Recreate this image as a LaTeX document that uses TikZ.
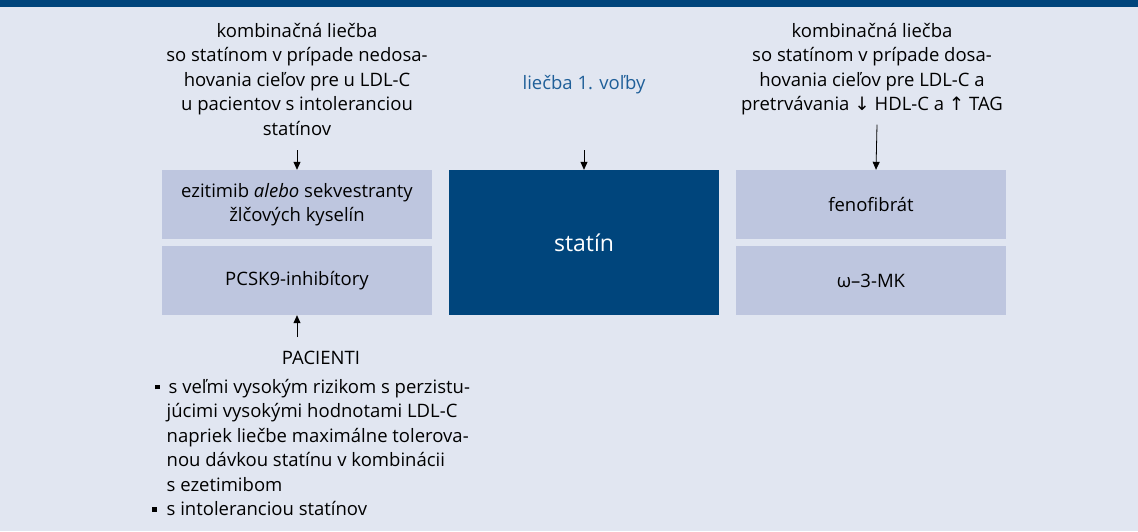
\documentclass[tikz,border=0pt]{standalone}
\usepackage{fontspec}
\setmainfont{Open Sans}
\newfontfamily\symf{DejaVu Sans}
\usetikzlibrary{arrows.meta}
\definecolor{bg}{HTML}{E1E6F1}
\definecolor{dkblue}{HTML}{00457C}
\definecolor{ltbox}{HTML}{BEC6DF}
\definecolor{txtblue}{HTML}{1F5F99}
\newcommand{\sqb}{\raisebox{4pt}{\rule{4.5pt}{4.5pt}}}
\tikzset{
 lbox/.style={fill=ltbox, minimum width=270pt, minimum height=69pt, inner sep=0pt, align=center, font=\fontsize{18.5}{24}\selectfont},
 ltext/.style={align=center, font=\fontsize{18.5}{24.5}\selectfont, inner sep=0pt},
 arr/.style={-{Triangle[width=7pt,length=8pt]}, line width=0.8pt},
}
\begin{document}
\begin{tikzpicture}[x=1pt,y=-1pt]
\useasboundingbox (0,0) rectangle (1138,531);
\fill[bg] (0,0) rectangle (1138,531);
\fill[dkblue] (0,0) rectangle (1138,7);
\node[lbox] (ezt) at (297,204.5) {ezitimib \textit{alebo} sekvestranty\\žlčových kyselín};
\node[lbox] (pcsk) at (297,280.5) {PCSK9-inhibítory};
\node[fill=dkblue, minimum width=270pt, minimum height=145pt, inner sep=0pt, text=white, font=\fontsize{23}{27}\selectfont] (statin) at (584,242.5) {statín};
\node[lbox] (feno) at (871,204.5) {fenofibrát};
\node[lbox] (omega) at (871,280.5) {ω–3-MK};
\node[ltext, anchor=north] (lt) at (297,23) {kombinačná liečba\\so statínom v prípade nedosa-\\hovania cieľov pre u LDL-C\\u pacientov s intoleranciou\\statínov};
\node[ltext, anchor=north] (rt) at (872,23) {kombinačná liečba\\so statínom v prípade dosa-\\hovania cieľov pre LDL-C a\\pretrvávania {\symf ↓} HDL-C a {\symf ↑} TAG};
\node[ltext, text=txtblue] (first) at (584,85) {liečba 1. voľby};
\coordinate (cs) at (584,150);
\coordinate (ls) at (297,150);
\draw[arr] (ls) -- (ezt.north);
\draw[arr] (cs) -- (statin.north);
\draw[arr] ([xshift=5pt,yshift=-9pt]rt.south) -- ([xshift=5pt]feno.north);
\node[ltext] (pac) at (321,358) {PACIENTI};
\coordinate (pb) at (297,337);
\draw[arr] (pb) -- (pcsk.south);
\node[ltext, anchor=north west, align=left] (list) at (152,376) {\begin{tabular}{@{}l@{\hspace{7pt}}l@{}}
\hspace{3pt}\sqb & \hspace{2pt}s veľmi vysokým rizikom s perzistu-\\
 & júcimi vysokými hodnotami LDL-C\\
 & napriek liečbe maximálne tolerova-\\
 & nou dávkou statínu v kombinácii\\
 & s ezetimibom\\
\sqb & s intoleranciou statínov
\end{tabular}};
\end{tikzpicture}
\end{document}
